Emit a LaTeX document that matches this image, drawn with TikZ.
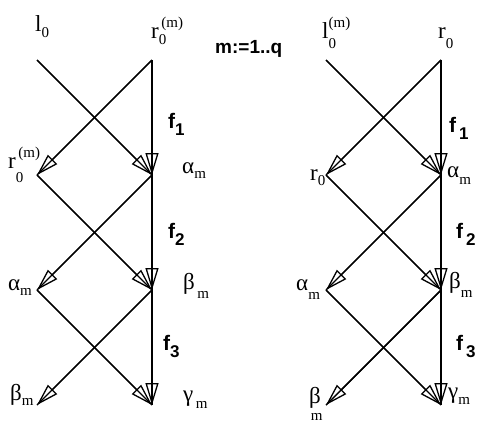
\documentclass[tikz,border=0pt]{standalone}
\usepackage{fontspec}
\setmainfont{Liberation Serif}
\newfontfamily\hsans{Liberation Sans}
\usetikzlibrary{arrows.meta}
% base, subscript lowered by #1, superscript
\newcommand\lb[4][7pt]{#2\rlap{\raisebox{-#1}{\fontsize{15}{15}\selectfont #3}}\raisebox{11pt}{\fontsize{15}{15}\selectfont #4}}
\newcommand\fsub[2]{#1\raisebox{-7pt}{\fontsize{17}{20}\selectfont #2}}
\begin{document}
\begin{tikzpicture}[x=1pt,y=-1pt,
  wire/.style={line width=1.4pt},
  edge/.style={line width=1.4pt, -{Triangle[open,length=22pt,width=13pt,line width=1.3pt]}},
  lab/.style={inner sep=0pt, anchor=base west, font=\fontsize{23}{26}\selectfont},
  flab/.style={inner sep=0pt, anchor=base west, font=\hsans\bfseries\fontsize{21}{24}\selectfont}]
\useasboundingbox (0,0) rectangle (482,426);
% left diagram points
\coordinate (La) at (37,60);
\coordinate (Lr0) at (152,60);
\coordinate (Ll1) at (37,175);
\coordinate (Lr1) at (152,175);
\coordinate (Ll2) at (37,290);
\coordinate (Lr2) at (152,290);
\coordinate (Ll3) at (37,405);
\coordinate (Lr3) at (152,405);
% right diagram points
\coordinate (Ra) at (326,60);
\coordinate (Rr0) at (441,60);
\coordinate (Rl1) at (326,175);
\coordinate (Rr1) at (441,175);
\coordinate (Rl2) at (326,290);
\coordinate (Rr2) at (441,290);
\coordinate (Rl3) at (326,405);
\coordinate (Rr3) at (441,405);
\foreach \p in {L,R}{
  \foreach \s/\t in {\p a/\p r1, \p r0/\p l1, \p r0/\p r1,
                     \p l1/\p r2, \p r1/\p l2, \p r1/\p r2,
                     \p l2/\p r3, \p r2/\p l3, \p r2/\p r3}{
    \draw[wire] (\s) -- (\t);
    \draw[edge] (\s) -- (\t);
  }
}
% left labels
\node[lab] (tl0) at (35,31) {\lb[6pt]{l}{0}{}};
\node[lab] (tr0m) at (151,38) {\lb[6pt]{r}{0}{\,(m)}};
\node[lab, font=\hsans\bfseries\fontsize{19}{22}\selectfont] (mq) at (215,53) {m:=1..q};
\node[flab] (f1l) at (168,128) {\fsub{f}{1}};
\node[lab] (aml) at (182,173) {\lb[5pt]{α}{m}{}};
\node[lab] (r0ml) at (8,168) {\lb[14pt]{r}{0}{\,(m)}};
\node[flab] (f2l) at (168,238) {\fsub{f}{2}};
\node[lab] (bml) at (183,289) {\lb[9pt]{β}{\,m}{}};
\node[lab] (aml2) at (8,290) {\lb[5pt]{α}{m}{}};
\node[flab] (f3l) at (163,350) {\fsub{f}{3}};
\node[lab] (bml3) at (10,400) {\lb[5pt]{β}{m}{}};
\node[lab] (gml) at (183,401) {\lb[7pt]{γ}{\,m}{}};
% right labels
\node[lab] (tl0m) at (322,38) {\lb[10pt]{l}{0}{(m)}};
\node[lab] (tr0) at (438,38) {\lb[10pt]{r}{0}{}};
\node[flab] (f1r) at (449,132) {\fsub{f}{\,1}};
\node[lab] (amr) at (447,177) {\lb[7pt]{α}{m}{}};
\node[lab] (r0r) at (310,180) {\lb[5pt]{r}{0}{}};
\node[flab] (f2r) at (456,238) {\fsub{f}{\,2}};
\node[lab] (bmr) at (449,288) {\lb[9pt]{β}{m}{}};
\node[lab] (amr2) at (296,290) {\lb[9pt]{α}{m}{}};
\node[flab] (f3r) at (456,350) {\fsub{f}{\,3}};
\node[lab] (bmr3) at (309,403) {β\kern-10pt\raisebox{-17pt}{\fontsize{15}{15}\selectfont m}};
\node[lab] (gmr) at (448,398) {\lb[6pt]{γ}{m}{}};
\end{tikzpicture}
\end{document}
